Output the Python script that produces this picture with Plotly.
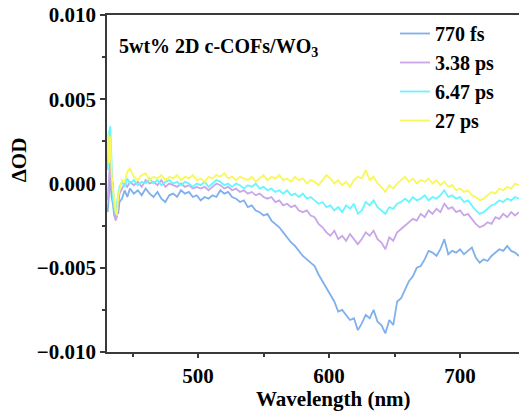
import plotly.graph_objects as go

# Transient absorption spectra of 5wt% 2D c-COFs/WO3 at four delay times
wavelength = [
    431, 432, 433, 434, 435, 436, 437, 438, 439, 440, 442, 444, 446, 448,
    451, 454, 457, 460, 463, 466, 469, 472, 475, 478, 481, 484, 487, 490,
    493, 496, 499, 502, 505, 508, 511, 514, 517, 520, 523, 526, 529, 532,
    535, 538, 541, 544, 547, 550, 553, 556, 559, 562, 565, 568, 571, 574,
    577, 580, 583, 586, 589, 592, 595, 598, 601, 604, 607, 610, 613, 616,
    619, 622, 625, 628, 631, 634, 637, 640, 643, 646, 649, 652, 655, 658,
    661, 664, 667, 670, 673, 676, 679, 682, 685, 688, 691, 694, 697, 700,
    703, 706, 709, 712, 715, 718, 721, 724, 727, 730, 733, 736, 739, 742, 745,
]

od_770fs = [
    -0.0017, -0.0006, 0.0004, -0.0008, -0.0012, -0.0019, -0.0021, -0.0016, -0.0018, -0.0011, -0.0009, -0.0004, -0.0008, -0.0003,
    -0.0006, -0.0004, -0.0007, -0.0003, -0.0006, -0.0008, -0.0005, -0.0009, -0.0011, -0.0007, -0.0006, -0.0008, -0.0004, -0.0006,
    -0.0005, -0.0008, -0.0007, -0.0010, -0.0008, -0.0009, -0.0007, -0.0008, -0.0004, -0.0006, -0.0005, -0.0008, -0.0009, -0.0011,
    -0.0010, -0.0014, -0.0013, -0.0016, -0.0017, -0.0019, -0.0018, -0.0022, -0.0024, -0.0026, -0.0029, -0.0032, -0.0035, -0.0037,
    -0.0040, -0.0043, -0.0045, -0.0047, -0.0049, -0.0054, -0.0058, -0.0062, -0.0066, -0.0070, -0.0076, -0.0075, -0.0078, -0.0081,
    -0.0080, -0.0087, -0.0083, -0.0078, -0.0080, -0.0075, -0.0082, -0.0084, -0.0089, -0.0081, -0.0084, -0.0070, -0.0068, -0.0063,
    -0.0058, -0.0055, -0.0050, -0.0049, -0.0045, -0.0040, -0.0041, -0.0043, -0.0039, -0.0033, -0.0042, -0.0040, -0.0041, -0.0039,
    -0.0042, -0.0040, -0.0038, -0.0044, -0.0047, -0.0045, -0.0046, -0.0043, -0.0041, -0.0039, -0.0040, -0.0037, -0.0040, -0.0041, -0.0043,
]

od_338ps = [
    -0.0010, 0.0002, 0.0015, -0.0004, 0.0001, -0.0016, -0.0022, -0.0020, -0.0012, -0.0006, -0.0003, 0.0000, -0.0002, 0.0001,
    -0.0001, 0.0001, -0.0002, 0.0002, 0.0000, 0.0001, -0.0001, 0.0002, -0.0002, 0.0000, -0.0001, -0.0002, 0.0000, -0.0002,
    -0.0001, -0.0003, -0.0002, -0.0003, -0.0002, -0.0004, -0.0002, 0.0000, -0.0001, -0.0003, -0.0002, -0.0004, -0.0003, -0.0005,
    -0.0004, -0.0006, -0.0005, -0.0007, -0.0006, -0.0008, -0.0009, -0.0008, -0.0011, -0.0010, -0.0013, -0.0012, -0.0014, -0.0013,
    -0.0016, -0.0017, -0.0016, -0.0019, -0.0020, -0.0024, -0.0026, -0.0029, -0.0031, -0.0028, -0.0033, -0.0031, -0.0034, -0.0030,
    -0.0033, -0.0036, -0.0033, -0.0029, -0.0031, -0.0028, -0.0033, -0.0035, -0.0039, -0.0032, -0.0034, -0.0029, -0.0027, -0.0025,
    -0.0023, -0.0021, -0.0022, -0.0018, -0.0020, -0.0016, -0.0018, -0.0015, -0.0017, -0.0012, -0.0015, -0.0014, -0.0017, -0.0016,
    -0.0019, -0.0018, -0.0021, -0.0024, -0.0026, -0.0025, -0.0023, -0.0024, -0.0020, -0.0021, -0.0018, -0.0020, -0.0017, -0.0019, -0.0017,
]

od_647ps = [
    0.0008, 0.0030, 0.0034, 0.0005, -0.0009, -0.0014, -0.0018, -0.0012, -0.0007, -0.0002, 0.0001, -0.0002, 0.0003, 0.0000,
    0.0002, -0.0001, 0.0001, 0.0000, 0.0003, 0.0000, 0.0002, -0.0001, 0.0001, 0.0002, 0.0000, 0.0001, -0.0001, 0.0001,
    0.0000, -0.0002, 0.0000, -0.0001, 0.0001, -0.0002, 0.0000, 0.0002, 0.0001, -0.0001, 0.0000, -0.0002, 0.0000, -0.0001,
    -0.0003, -0.0001, -0.0002, 0.0000, -0.0003, -0.0002, -0.0004, -0.0003, -0.0005, -0.0004, -0.0006, -0.0004, -0.0007, -0.0006,
    -0.0008, -0.0006, -0.0009, -0.0008, -0.0010, -0.0012, -0.0011, -0.0014, -0.0013, -0.0016, -0.0014, -0.0017, -0.0013, -0.0015,
    -0.0012, -0.0018, -0.0016, -0.0011, -0.0013, -0.0010, -0.0014, -0.0016, -0.0018, -0.0014, -0.0015, -0.0012, -0.0011, -0.0009,
    -0.0011, -0.0008, -0.0010, -0.0009, -0.0007, -0.0010, -0.0008, -0.0009, -0.0007, -0.0004, -0.0008, -0.0007, -0.0009, -0.0008,
    -0.0011, -0.0010, -0.0013, -0.0016, -0.0018, -0.0017, -0.0015, -0.0013, -0.0012, -0.0010, -0.0011, -0.0009, -0.0010, -0.0008, -0.0009,
]

od_27ps = [
    0.0030, 0.0012, 0.0028, 0.0006, -0.0003, -0.0010, -0.0016, -0.0019, -0.0008, -0.0004, 0.0002, 0.0001, 0.0007, 0.0009,
    0.0004, 0.0002, 0.0005, 0.0006, 0.0002, 0.0004, 0.0003, 0.0005, 0.0002, 0.0004, 0.0003, 0.0005, 0.0002, 0.0004,
    0.0003, 0.0005, 0.0002, 0.0003, 0.0001, 0.0004, 0.0003, 0.0005, 0.0004, 0.0006, 0.0003, 0.0004, 0.0002, 0.0004,
    0.0003, 0.0002, 0.0004, 0.0001, 0.0003, 0.0005, 0.0002, 0.0004, 0.0003, 0.0005, 0.0002, 0.0003, 0.0001, 0.0004,
    0.0002, 0.0003, 0.0000, 0.0002, 0.0001, -0.0001, 0.0002, 0.0005, 0.0003, 0.0000, 0.0002, -0.0001, 0.0001, -0.0002,
    0.0002, 0.0004, 0.0003, 0.0008, 0.0002, 0.0004, 0.0000, -0.0002, -0.0005, -0.0001, -0.0003, 0.0000, 0.0002, 0.0004,
    0.0001, 0.0003, 0.0000, 0.0002, 0.0001, 0.0003, 0.0000, 0.0002, -0.0001, 0.0001, -0.0002, -0.0001, -0.0004, -0.0003,
    -0.0005, -0.0004, -0.0007, -0.0008, -0.0010, -0.0009, -0.0007, -0.0005, -0.0006, -0.0003, -0.0004, -0.0002, -0.0003, 0.0000, -0.0001,
]

series = [
    ("770 fs", od_770fs, "#7fb0ec"),
    ("3.38 ps", od_338ps, "#c9a6e8"),
    ("6.47 ps", od_647ps, "#66f6ff"),
    ("27 ps", od_27ps, "#f8f85a"),
]

FONT = "Liberation Serif"
AXIS_COLOR = "#3a3a3a"

fig = go.Figure()
for name, values, color in series:
    fig.add_trace(go.Scatter(
        x=wavelength, y=values, name=name, mode="lines",
        line=dict(color=color, width=1.8),
    ))

fig.update_layout(
    width=519, height=414,
    margin=dict(l=107, r=0, t=15, b=62),
    paper_bgcolor="white", plot_bgcolor="white",
    font=dict(family=FONT, size=21, color="black", weight="bold"),
    showlegend=True,
    legend=dict(
        x=0.699, y=1.003, xanchor="left", yanchor="top",
        bgcolor="rgba(0,0,0,0)", borderwidth=0,
        font=dict(family=FONT, size=20, color="black", weight="bold"),
        tracegroupgap=0,
    ),
    annotations=[
        dict(text="5wt% 2D c-COFs/WO<sub>3</sub>", xref="paper", yref="paper",
             x=0.024, y=0.905, xanchor="left", yanchor="middle", showarrow=False,
             font=dict(family=FONT, size=20, color="black", weight="bold")),
        dict(text="ΔOD", xref="paper", yref="paper", x=-0.215, y=0.57,
             xanchor="center", yanchor="middle", textangle=-90, showarrow=False,
             font=dict(family=FONT, size=21, color="black", weight="bold")),
        dict(text="Wavelength (nm)", xref="paper", yref="paper", x=0.549, y=-0.138,
             xanchor="center", yanchor="middle", showarrow=False,
             font=dict(family=FONT, size=21, color="black", weight="bold")),
    ],
)

fig.update_xaxes(
    range=[430.5, 745], tickvals=[500, 600, 700],
    showgrid=False, zeroline=False,
    showline=True, linecolor=AXIS_COLOR, linewidth=1.6, mirror=True,
    ticks="outside", ticklen=4, tickwidth=1.5, tickcolor=AXIS_COLOR,
    minor=dict(tickvals=[450, 550, 650], ticks="outside", ticklen=3,
               tickwidth=1.5, tickcolor=AXIS_COLOR),
    tickfont=dict(family=FONT, size=21, color="black", weight="bold"),
)
fig.update_yaxes(
    range=[-0.010, 0.010], tickvals=[-0.010, -0.005, 0.0, 0.005, 0.010],
    tickformat=".3f",
    showgrid=False, zeroline=False,
    showline=True, linecolor=AXIS_COLOR, linewidth=1.6, mirror=False,
    ticks="outside", ticklen=5, tickwidth=1.5, tickcolor=AXIS_COLOR,
    minor=dict(tickvals=[-0.0075, -0.0025, 0.0025, 0.0075], ticks="outside",
               ticklen=3, tickwidth=1.5, tickcolor=AXIS_COLOR),
    tickfont=dict(family=FONT, size=21, color="black", weight="bold"),
)

fig.write_html("out.html")
